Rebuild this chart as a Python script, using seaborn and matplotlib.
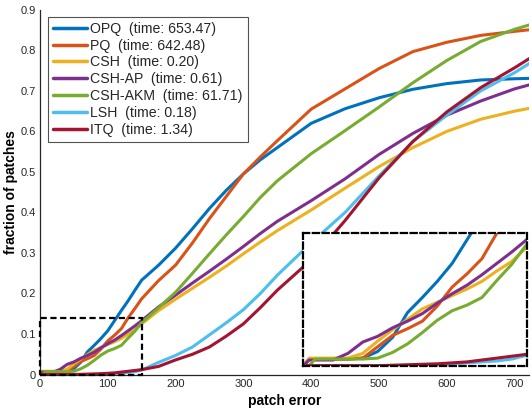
import matplotlib
matplotlib.use("Agg")
import numpy as np
import pandas as pd
import seaborn as sns
import matplotlib.pyplot as plt
from matplotlib.patches import Rectangle

# ---------------- data ----------------
methods = ["OPQ", "PQ", "CSH", "CSH-AP", "CSH-AKM", "LSH", "ITQ"]
times = ["653.47", "642.48", "0.20", "0.61", "61.71", "0.18", "1.34"]
colors = ["#0072BD", "#D95319", "#EDB120", "#7E2F8E", "#77AC30", "#4DBEEE", "#A2142F"]

patch_error = [0, 4, 8, 20, 30, 40, 50, 60, 70, 80, 90, 100, 110, 120, 130, 140, 150,
               175, 200, 225, 250, 275, 300, 325, 350, 400, 450, 500, 550, 600, 650, 700, 722]

opq = [0, 0.007, 0.007, 0.007, 0.007, 0.008, 0.015, 0.03, 0.056, 0.072, 0.089, 0.108, 0.133,
       0.158, 0.182, 0.208, 0.233, 0.27, 0.312, 0.36, 0.41, 0.455, 0.495, 0.53, 0.56, 0.62, 0.656,
       0.683, 0.704, 0.718, 0.727, 0.730, 0.731]
pq = [0, 0.007, 0.007, 0.007, 0.007, 0.008, 0.02, 0.032, 0.039, 0.047, 0.063, 0.083, 0.097,
      0.113, 0.14, 0.163, 0.187, 0.232, 0.27, 0.325, 0.385, 0.44, 0.495, 0.537, 0.577, 0.655, 0.705,
      0.755, 0.797, 0.82, 0.837, 0.847, 0.851]
csh = [0, 0.008, 0.008, 0.008, 0.008, 0.013, 0.026, 0.038, 0.049, 0.06, 0.067, 0.074, 0.081,
       0.089, 0.1, 0.11, 0.125, 0.158, 0.186, 0.213, 0.24, 0.268, 0.298, 0.327, 0.355, 0.406, 0.46,
       0.513, 0.56, 0.6, 0.63, 0.65, 0.657]
csh_ap = [0, 0.006, 0.006, 0.006, 0.013, 0.025, 0.031, 0.04, 0.047, 0.055, 0.066, 0.076, 0.085,
          0.096, 0.108, 0.12, 0.133, 0.167, 0.196, 0.226, 0.255, 0.285, 0.316, 0.348, 0.378, 0.429,
          0.483, 0.543, 0.595, 0.64, 0.675, 0.705, 0.715]
csh_akm = [0, 0, 0.007, 0.007, 0.007, 0.007, 0.008, 0.014, 0.023, 0.035, 0.048, 0.058, 0.064,
           0.072, 0.09, 0.107, 0.128, 0.165, 0.203, 0.25, 0.298, 0.345, 0.39, 0.437, 0.478, 0.545,
           0.602, 0.66, 0.72, 0.775, 0.822, 0.852, 0.863]
lsh = [0, 0, 0, 0, 0, 0, 0, 0, 0, 0, 0.001, 0.002, 0.003, 0.004, 0.005, 0.007, 0.011,
       0.03, 0.047, 0.068, 0.098, 0.128, 0.16, 0.2, 0.245, 0.325, 0.4, 0.49, 0.575, 0.64, 0.7,
       0.745, 0.768]
itq = [0, 0, 0, 0, 0, 0, 0, 0.0005, 0.001, 0.0015, 0.002, 0.003, 0.004, 0.006, 0.008, 0.01,
       0.012, 0.02, 0.036, 0.05, 0.068, 0.095, 0.125, 0.165, 0.208, 0.283, 0.38, 0.485, 0.575,
       0.648, 0.708, 0.757, 0.78]

series = [opq, pq, csh, csh_ap, csh_akm, lsh, itq]
labels = [f"{m}  (time: {t})" for m, t in zip(methods, times)]

rows = []
for lab, ys in zip(labels, series):
    for x, y in zip(patch_error, ys):
        rows.append({"patch error": x, "fraction": y, "method": lab})
df = pd.DataFrame(rows)

# ---------------- style ----------------
sns.set_theme(style="white")
plt.rcParams["font.family"] = ["Liberation Sans", "DejaVu Sans"]
axcol = "#262626"

fig = plt.figure(figsize=(5.32, 4.12), dpi=100)
ax = fig.add_axes([0.0752, 0.091, 0.92, 0.885])

sns.lineplot(data=df, x="patch error", y="fraction", hue="method", hue_order=labels,
             palette=colors, estimator=None, sort=False, linewidth=2.2, ax=ax, legend=True)

ax.set_xlim(0, 722)
ax.set_ylim(0, 0.9)
ax.set_xticks(np.arange(0, 701, 100))
ax.set_yticks(np.arange(0, 0.91, 0.1))
ax.set_xticklabels([str(v) for v in range(0, 701, 100)])
ax.set_yticklabels(["0"] + [f"{v:.1f}" for v in np.arange(0.1, 0.91, 0.1)])
ax.tick_params(direction="in", length=4, width=0.8, colors=axcol, labelsize=8, pad=3)
for s in ["top", "right"]:
    ax.spines[s].set_visible(False)
for s in ["left", "bottom"]:
    ax.spines[s].set_color(axcol)
    ax.spines[s].set_linewidth(0.9)
ax.set_xlabel("patch error", fontsize=10, fontweight="bold", color="black", labelpad=4)
ax.set_ylabel("fraction of patches", fontsize=10, fontweight="bold", color="black", labelpad=2)

# zoom region marker
ax.add_patch(Rectangle((0, 0), 150, 0.14, fill=False, edgecolor="black", linewidth=1.6,
                       linestyle=(0, (2.8, 1.6)), zorder=5, clip_on=False))

handles, _ = ax.get_legend_handles_labels()
leg = ax.legend(handles=handles, labels=labels, loc="upper left", bbox_to_anchor=(0.016, 0.981),
                borderaxespad=0, fontsize=10.2, handlelength=2.4, handletextpad=0.25,
                labelspacing=0.2, borderpad=0.35, frameon=True, fancybox=False)
leg.get_frame().set_edgecolor(axcol)
leg.get_frame().set_linewidth(0.8)
for h in leg.get_lines():
    h.set_linewidth(2.5)

# ---------------- inset ----------------
axin = fig.add_axes([0.570, 0.1124, 0.42, 0.322])
axin.set_facecolor("white")
sns.lineplot(data=df[df["patch error"] <= 175], x="patch error", y="fraction", hue="method",
             hue_order=labels, palette=colors, estimator=None, sort=False, linewidth=2.2,
             ax=axin, legend=False)
axin.set_xlim(0, 150)
axin.set_ylim(0, 0.14)
axin.set_xticks([])
axin.set_yticks([])
axin.set_xlabel("")
axin.set_ylabel("")
for s in axin.spines.values():
    s.set_visible(True)
    s.set_color("black")
    s.set_linewidth(1.6)
    s.set_linestyle((0, (2.8, 1.6)))

fig.savefig("out.png", dpi=100)
